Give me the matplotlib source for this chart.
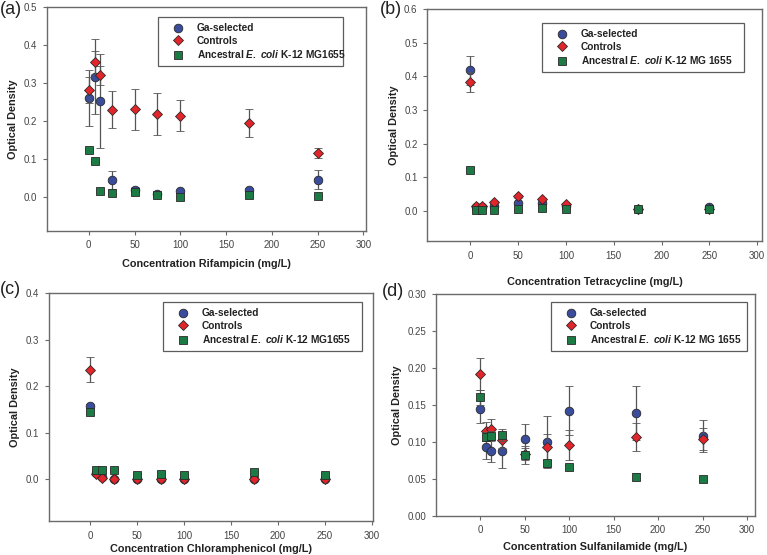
import numpy as np
import matplotlib
matplotlib.use("Agg")
import matplotlib.pyplot as plt

plt.rcParams['font.family'] = ['Liberation Sans', 'DejaVu Sans']
plt.rcParams['mathtext.fontset'] = 'custom'
plt.rcParams['mathtext.it'] = 'Liberation Sans:italic:bold'
plt.rcParams['mathtext.rm'] = 'Liberation Sans:bold'

conc = [0, 6.25, 12.5, 25, 50, 75, 100, 175, 250]

# (a) rifampicin
ga_rif = [0.260, 0.317, 0.253, 0.044, 0.018, 0.007, 0.014, 0.018, 0.045]
ga_rif_err = [0.074, 0.098, 0.124, 0.024, 0.007, 0.003, 0.004, 0.006, 0.025]
ctrl_rif = [0.282, 0.355, 0.320, 0.230, 0.231, 0.218, 0.214, 0.194, 0.115]
ctrl_rif_err = [0.035, 0.030, 0.026, 0.049, 0.054, 0.056, 0.041, 0.037, 0.013]
anc_rif = [0.124, 0.093, 0.015, 0.009, 0.012, 0.005, 0.000, 0.003, 0.002]
anc_rif_err = [0.003, 0.002, 0.002, 0.002, 0.003, 0.002, 0.001, 0.002, 0.001]

# (b) tetracycline
ga_tet = [0.418, 0.012, 0.010, 0.015, 0.022, 0.022, 0.015, 0.005, 0.012]
ga_tet_err = [0.042, 0.002, 0.002, 0.003, 0.004, 0.004, 0.003, 0.001, 0.002]
ctrl_tet = [0.384, 0.015, 0.014, 0.027, 0.043, 0.034, 0.019, 0.004, 0.006]
ctrl_tet_err = [0.029, 0.002, 0.002, 0.003, 0.004, 0.003, 0.002, 0.001, 0.001]
anc_tet = [0.121, 0.003, 0.003, 0.003, 0.004, 0.008, 0.005, 0.005, 0.005]
anc_tet_err = [0.003, 0.001, 0.001, 0.001, 0.001, 0.001, 0.001, 0.001, 0.001]

# (c) chloramphenicol
ga_chl = [0.158, 0.014, 0.004, 0.001, 0.001, 0.000, 0.000, 0.000, 0.000]
ga_chl_err = [0.004, 0.002, 0.001, 0.001, 0.001, 0.000, 0.000, 0.000, 0.000]
ctrl_chl = [0.236, 0.012, 0.003, 0.001, 0.001, 0.000, 0.000, 0.000, 0.000]
ctrl_chl_err = [0.026, 0.002, 0.001, 0.001, 0.001, 0.000, 0.000, 0.000, 0.000]
anc_chl = [0.145, 0.020, 0.020, 0.019, 0.010, 0.012, 0.010, 0.015, 0.009]
anc_chl_err = [0.003, 0.002, 0.002, 0.002, 0.002, 0.002, 0.002, 0.002, 0.002]

# (d) sulfanilamide
ga_sul = [0.145, 0.093, 0.087, 0.087, 0.104, 0.100, 0.142, 0.139, 0.108]
ga_sul_err = [0.020, 0.016, 0.014, 0.022, 0.020, 0.035, 0.033, 0.037, 0.022]
ctrl_sul = [0.192, 0.114, 0.117, 0.102, 0.084, 0.093, 0.096, 0.106, 0.104]
ctrl_sul_err = [0.022, 0.013, 0.014, 0.010, 0.008, 0.017, 0.020, 0.019, 0.015]
anc_sul = [0.160, 0.107, 0.108, 0.109, 0.082, 0.071, 0.066, 0.053, 0.049]
anc_sul_err = [0.010, 0.006, 0.006, 0.008, 0.012, 0.005, 0.003, 0.005, 0.002]

W, H = 767, 555
fig = plt.figure(figsize=(W / 100, H / 100), dpi=100)

blue = '#3a4d9c'
red = '#e2252b'
green = '#1c7a45'
edge = '#2a2a2a'
errc = '#555555'
frame = '#6a6a6a'

anc1 = r'Ancestral $\mathit{E.}$ $\mathit{coli}$ K-12 MG1655'
anc2 = r'Ancestral $\mathit{E.}$ $\mathit{coli}$ K-12 MG 1655'

panels = [
    # letter, rect(px: left, top, right, bottom), data, xlabel, xlim, ylim, yticks, fmt, labelpad, legend box, anc label, letter pos
    ('(a)', (46.7, 7.3, 366, 230.7), (ga_rif, ga_rif_err, ctrl_rif, ctrl_rif_err, anc_rif, anc_rif_err),
     'Concentration Rifampicin (mg/L)', (-46, 303), (-0.09, 0.5), np.arange(0, 0.51, 0.1), '%.1f', 6,
     (158, 17, 343, 67), anc1, (0, 1)),
    ('(b)', (427.3, 9.3, 762, 241), (ga_tet, ga_tet_err, ctrl_tet, ctrl_tet_err, anc_tet, anc_tet_err),
     'Concentration Tetracycline (mg/L)', (-45, 305), (-0.09, 0.6), np.arange(0, 0.61, 0.1), '%.1f', 11.5,
     (542, 23, 744, 73), anc2, (380, 1)),
    ('(c)', (49, 293.3, 372.7, 521), (ga_chl, ga_chl_err, ctrl_chl, ctrl_chl_err, anc_chl, anc_chl_err),
     'Concentration Chloramphenicol (mg/L)', (-44, 301), (-0.09, 0.4), np.arange(0, 0.41, 0.1), '%.1f', 2.5,
     (163, 302, 362, 352), anc1, (0, 281)),
    ('(d)', (435.7, 294, 755, 515.7), (ga_sul, ga_sul_err, ctrl_sul, ctrl_sul_err, anc_sul, anc_sul_err),
     'Concentration Sulfanilamide (mg/L)', (-50, 309), (0, 0.30), np.arange(0, 0.301, 0.05), '%.2f', 5,
     (551, 302, 747, 351), anc2, (382, 283)),
]

for letter, rect, data, xlabel, xlim, ylim, yticks, fmt, lpad, lbox, anc_label, lpos in panels:
    l, t, r, b = rect
    ax = fig.add_axes([l / W, 1 - b / H, (r - l) / W, (b - t) / H])
    ga, ga_e, ct, ct_e, an, an_e = data
    common = dict(ecolor=errc, elinewidth=0.9, capsize=2.6, capthick=0.9,
                  markeredgecolor=edge, markeredgewidth=0.6, linestyle='none')
    e1 = ax.errorbar(conc, ga, yerr=ga_e, fmt='o', markersize=6.2, color=blue, zorder=3, **common)
    e2 = ax.errorbar(conc, ct, yerr=ct_e, fmt='D', markersize=5.6, color=red, zorder=4, **common)
    e3 = ax.errorbar(conc, an, yerr=an_e, fmt='s', markersize=5.6, color=green, zorder=5, **common)

    ax.set_xlim(*xlim)
    ax.set_ylim(*ylim)
    ax.set_xticks([0, 50, 100, 150, 200, 250, 300])
    ax.set_yticks(yticks)
    ax.yaxis.set_major_formatter(matplotlib.ticker.FormatStrFormatter(fmt))
    for s in ax.spines.values():
        s.set_color(frame)
        s.set_linewidth(1.0)
    ax.tick_params(direction='out', length=3, width=0.8, color=frame,
                   labelsize=7, labelcolor='#444444', pad=4)
    ax.set_xlabel(xlabel, fontsize=7.8, fontweight='bold', color='#222222', labelpad=lpad)
    ax.set_ylabel('Optical Density', fontsize=7.8, fontweight='bold', color='#222222', labelpad=4)

    x0, y0, x1, y1 = lbox
    leg = ax.legend([e1[0], e2[0], e3[0]], ['Ga-selected', 'Controls', anc_label],
                    loc='upper left',
                    bbox_to_anchor=(x0 / W, 1 - y1 / H, (x1 - x0) / W, (y1 - y0) / H),
                    bbox_transform=fig.transFigure, mode='expand', borderaxespad=0,
                    prop={'weight': 'bold', 'size': 7.3}, frameon=True, fancybox=False,
                    borderpad=0.6, labelspacing=0.25, handlelength=2.8, handletextpad=0.45)
    leg.get_frame().set_edgecolor('#333333')
    leg.get_frame().set_linewidth(0.9)
    for txt in leg.get_texts():
        txt.set_color('#222222')

    fig.text(lpos[0] / W, 1 - lpos[1] / H, letter, fontsize=13, ha='left', va='top', color='#222222')

fig.savefig('out.png', dpi=100)
